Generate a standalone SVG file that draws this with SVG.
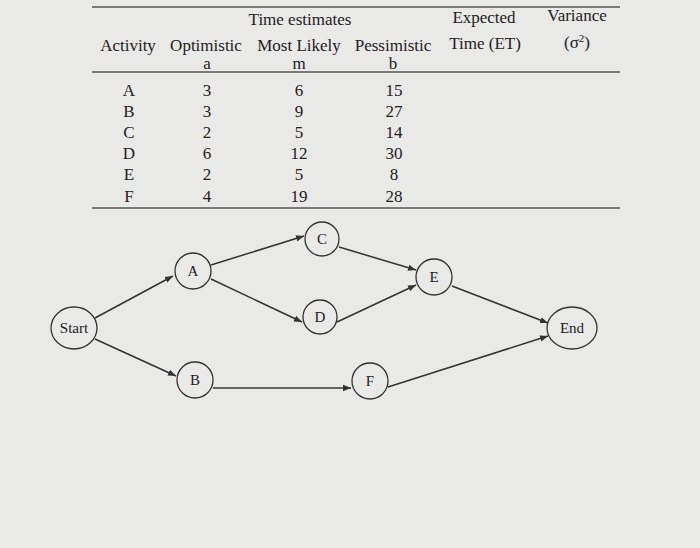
<svg xmlns="http://www.w3.org/2000/svg" width="700" height="548" viewBox="0 0 700 548">
<style>
text{font-family:"Liberation Serif","Times New Roman",serif;font-size:17px;fill:#222;text-anchor:middle}
.n{fill:none;stroke:#333;stroke-width:1.3}
.rule{stroke:#555;stroke-width:1.5}
.e{stroke:#333;stroke-width:1.5;fill:none;marker-end:url(#ah)}
.nl{font-size:15px}
</style>
<defs><marker id="ah" viewBox="0 0 10 10" refX="10" refY="5" markerWidth="8" markerHeight="8" markerUnits="userSpaceOnUse" orient="auto"><path d="M0,1 L10,5 L0,9 z" fill="#333"/></marker></defs>
<rect width="700" height="548" fill="#e9e9e7"/>
<g id="table">
<line class="rule" x1="92" y1="7" x2="620" y2="7"/>
<line class="rule" x1="92" y1="72" x2="620" y2="72"/>
<line class="rule" x1="92" y1="208" x2="620" y2="208"/>
<text x="300" y="25">Time estimates</text>
<text x="484" y="23">Expected</text>
<text x="577" y="21">Variance</text>
<text x="128" y="51">Activity</text>
<text x="206" y="51">Optimistic</text>
<text x="299" y="51">Most Likely</text>
<text x="393" y="51">Pessimistic</text>
<text x="485" y="49">Time (ET)</text>
<text x="577" y="48">(σ<tspan font-size="11" dy="-6">2</tspan><tspan dy="6">)</tspan></text>
<text x="207" y="69" font-size="15">a</text><text x="299" y="69" font-size="15">m</text><text x="393" y="69" font-size="15">b</text>
<text x="129" y="96">A</text><text x="207" y="96">3</text><text x="299" y="96">6</text><text x="394" y="96">15</text>
<text x="129" y="117">B</text><text x="207" y="117">3</text><text x="299" y="117">9</text><text x="394" y="117">27</text>
<text x="129" y="138">C</text><text x="207" y="138">2</text><text x="299" y="138">5</text><text x="394" y="138">14</text>
<text x="129" y="159">D</text><text x="207" y="159">6</text><text x="299" y="159">12</text><text x="394" y="159">30</text>
<text x="129" y="180">E</text><text x="207" y="180">2</text><text x="299" y="180">5</text><text x="394" y="180">8</text>
<text x="129" y="202">F</text><text x="207" y="202">4</text><text x="299" y="202">19</text><text x="394" y="202">28</text>
</g>
<g id="connectors">
<line class="e" x1="95" y1="318" x2="173" y2="276"/>
<line class="e" x1="95" y1="339" x2="176" y2="376"/>
<line class="e" x1="211" y1="265" x2="304" y2="236"/>
<line class="e" x1="211" y1="279" x2="302" y2="322"/>
<line class="e" x1="339" y1="247" x2="416" y2="270"/>
<line class="e" x1="337" y1="322" x2="416" y2="285"/>
<line class="e" x1="452" y1="286" x2="548" y2="323"/>
<line class="e" x1="213" y1="388" x2="351" y2="388"/>
<line class="e" x1="388" y1="387" x2="548" y2="336"/>
</g>
<g id="Start"><ellipse class="n" cx="74" cy="328" rx="23" ry="21"/><text class="nl" x="74" y="333">Start</text></g>
<g id="A"><circle class="n" cx="193" cy="271" r="18"/><text class="nl" x="193" y="276">A</text></g>
<g id="B"><circle class="n" cx="195" cy="380" r="18"/><text class="nl" x="195" y="385">B</text></g>
<g id="C"><circle class="n" cx="322" cy="239" r="17"/><text class="nl" x="322" y="244">C</text></g>
<g id="D"><circle class="n" cx="320" cy="317" r="17"/><text class="nl" x="320" y="322">D</text></g>
<g id="E"><circle class="n" cx="434" cy="277" r="18"/><text class="nl" x="434" y="282">E</text></g>
<g id="F"><circle class="n" cx="370" cy="381" r="18"/><text class="nl" x="370" y="386">F</text></g>
<g id="End"><ellipse class="n" cx="572" cy="328" rx="25" ry="21"/><text class="nl" x="572" y="333">End</text></g>
</svg>
